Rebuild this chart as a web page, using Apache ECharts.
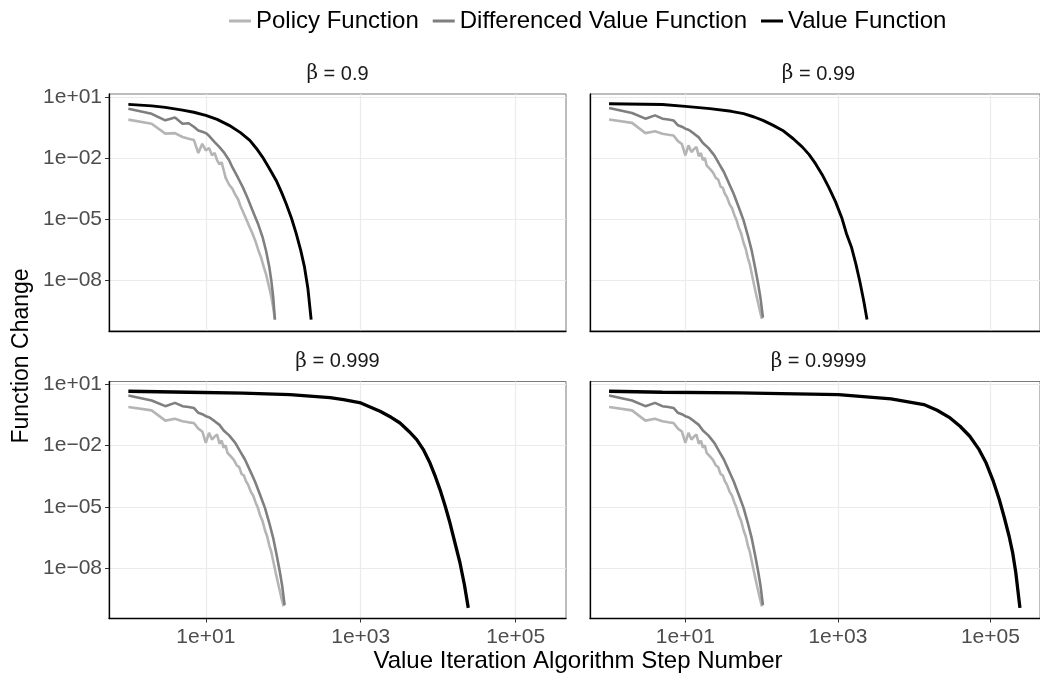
<!DOCTYPE html>
<html>
<head>
<meta charset="utf-8">
<script src="https://cdn.jsdelivr.net/npm/echarts@6/dist/echarts.min.js"></script>
<style>
  html, body { margin: 0; padding: 0; background: #fff; }
  #chart { width: 1040px; height: 677px; }
</style>
</head>
<body>
<div id="chart"></div>
<script>
// ── data: [step, change] ──────────────────────────────────
const betaLabels = ['0.9', '0.99', '0.999', '0.9999'];
const seriesNames = ['Policy Function', 'Differenced Value Function', 'Value Function'];
const xTicks = [10, 1000, 100000];
const yTicks = [1e-8, 1e-5, 1e-2, 10];

// β = 0.9
const policyA = [[1,0.78],[2,0.49],[3,0.16],[4,0.17],[5,0.11],[6,0.089],[7,0.079],[8,0.018],[9,0.051],[10,0.024],
  [11,0.032],[12,0.0138],[13,0.018],[14,0.0079],[15,0.005],[16,0.0063],[18,0.00112],[20,5e-4],[22,3.2e-4],[24,1.6e-4],
  [26,1e-4],[28,4.5e-5],[30,2.5e-5],[33,1.1e-5],[36,5e-6],[40,2e-6],[44,7.9e-7],[48,2.8e-7],[52,1.26e-7],[56,4.5e-8],
  [60,2e-8],[65,5.6e-9],[70,1.6e-9],[74,5e-10],[78,1.2e-10]];
const diffA = [[1,2.7],[2,1.5],[3,0.72],[4,0.98],[5,0.49],[6,0.52],[7,0.35],[8,0.23],[9,0.2],[10,0.17],[11,0.126],
  [13,0.062],[15,0.035],[17,0.02],[20,0.0079],[22,0.0036],[26,0.0011],[30,3.8e-4],[35,1e-4],[40,2.8e-5],[47,6.3e-6],
  [54,1.35e-6],[60,2.8e-7],[66,4.6e-8],[70,1e-8],[74,1.6e-9],[78,1.2e-10]];
const value09 = [[1,4.4],[2,3.7],[3,3.1],[5,2.3],[7,1.8],[10,1.26],[14,0.8],[20,0.41],[28,0.18],[37,0.075],[45,0.03],
  [54,0.0114],[65,3.5e-3],[81,8.1e-4],[95,2.1e-4],[109,5.8e-5],[128,1.1e-5],[147,2e-6],[168,3e-7],[188,4.5e-8],
  [208,4e-9],[229,1.2e-10]];

// β = 0.99, 0.999, 0.9999 share the policy / differenced curves
const policyB = [[1,0.79],[2,0.54],[3,0.17],[4,0.21],[5,0.16],[6,0.14],[7,0.13],[8,0.069],[9,0.05],[10,0.0138],
  [11,0.043],[12,0.02],[13,0.028],[14,0.035],[15,0.0126],[16,0.018],[17,0.0079],[18,0.0105],[19,0.0045],[20,0.0056],
  [21,0.003],[23,0.002],[25,0.0011],[27,8.9e-4],[29,4e-4],[31,3.5e-4],[33,1.8e-4],[35,1.26e-4],[38,5.6e-5],[41,3.5e-5],
  [44,1.6e-5],[47,8.9e-6],[50,4e-6],[54,2e-6],[58,7.1e-7],[62,3.5e-7],[66,1.26e-7],[70,6.3e-8],[75,1.8e-8],[80,5.6e-9],
  [85,2e-9],[90,7.9e-10],[95,3.2e-10],[101,1.3e-10]];
const diffB = [[1,2.9],[2,1.66],[3,0.87],[4,1.26],[5,0.87],[6,0.79],[7,0.71],[8,0.41],[9,0.35],[10,0.28],[11,0.25],
  [12,0.2],[13,0.16],[15,0.105],[17,0.056],[20,0.032],[24,0.0138],[28,0.005],[32,0.0021],[37,6.3e-4],[43,1.8e-4],
  [50,4e-5],[58,8.9e-6],[66,1.6e-6],[74,3e-7],[82,4.5e-8],[90,6.9e-9],[97,1.26e-9],[104,1.5e-10]];
const value099 = [[1,4.7],[5,4.3],[10,3.5],[21,2.7],[40,2.0],[58,1.53],[80,1.05],[104,0.72],[140,0.42],[189,0.23],
  [260,0.09],[343,0.035],[420,0.015],[509,0.0054],[620,1.6e-3],[757,3.8e-4],[930,7.4e-5],[1124,1.2e-5],[1300,1.9e-6],
  [1513,4.1e-7],[1720,6.5e-8],[1940,8.9e-9],[2180,1e-9],[2410,1.2e-10]];
const value0999 = [[1,4.7],[6,4.2],[30,3.8],[122,3.2],[400,2.3],[600,1.8],[1000,1.26],[1774,0.49],[2500,0.24],[3214,0.13],
  [4200,0.05],[5280,0.02],[6500,6e-3],[7840,1.4e-3],[9200,3e-4],[10550,7e-5],[12300,1.1e-5],[14200,1.6e-6],
  [16600,1.5e-7],[19100,1.8e-8],[21800,1.5e-9],[24450,1.1e-10]];
const value09999 = [[1,4.7],[5,4.2],[50,3.9],[1019,3.2],[4977,1.98],[13400,1.04],[20000,0.55],[29600,0.23],
  [40000,0.09],[53600,0.029],[70000,7e-3],[87900,1.4e-3],[108000,2e-4],[130700,2.3e-5],[152000,3e-6],
  [175800,3.6e-7],[195000,6e-8],[215000,6e-9],[243800,1.1e-10]];

const panelData = [
  [policyA, diffA, value09],
  [policyB, diffB, value099],
  [policyB, diffB, value0999],
  [policyB, diffB, value09999],
];

// ── layout / style ─────────────────────────────────────────
const FONT = '"Liberation Sans", Arial, Helvetica, sans-serif';
const lineColors = ['#b5b5b5', '#7f7f7f', '#000000'];
const lineWidths = [2.6, 2.6, 2.9];
const gridPos = [
  { left: 109, top: 94 },  { left: 590, top: 94 },
  { left: 109, top: 381.5 }, { left: 590, top: 381.5 },
];
const PW = 457, PH = 237;
const X_MIN = Math.pow(10, -0.25), X_MAX = Math.pow(10, 5.65);
const Y_MIN = Math.pow(10, -10.48), Y_MAX = Math.pow(10, 1.15);

function sci(v) {
  const e = Math.round(Math.log10(v));
  const a = Math.abs(e);
  return '1e' + (e < 0 ? '\u2212' : '+') + (a < 10 ? '0' : '') + a;
}

const chart = echarts.init(document.getElementById('chart'), null, { renderer: 'canvas' });

const grids = gridPos.map(p => ({
  left: p.left, top: p.top, width: PW, height: PH,
  show: true, backgroundColor: '#fff', borderColor: '#7a7a7a', borderWidth: 1,
}));

const xAxes = gridPos.map((p, i) => {
  const bottomRow = i >= 2;
  return {
    type: 'log', logBase: 10, gridIndex: i, min: X_MIN, max: X_MAX,
    axisLine: { show: true, lineStyle: { color: '#000', width: 1.3 } },
    axisTick: { show: bottomRow, customValues: xTicks, length: 4, lineStyle: { color: '#333' } },
    axisLabel: { show: bottomRow, customValues: xTicks, formatter: sci, margin: 8,
                 fontFamily: FONT, fontSize: 21, color: '#4d4d4d' },
    splitLine: { show: true, lineStyle: { color: '#ebebeb', width: 1.2 } },
  };
});

const yAxes = gridPos.map((p, i) => {
  const leftCol = i % 2 === 0;
  return {
    type: 'log', logBase: 10, gridIndex: i, min: Y_MIN, max: Y_MAX,
    axisLine: { show: true, lineStyle: { color: '#000', width: 1.3 } },
    axisTick: { show: leftCol, customValues: yTicks, length: 4, lineStyle: { color: '#333' } },
    axisLabel: { show: leftCol, customValues: yTicks, formatter: sci, margin: 7,
                 fontFamily: FONT, fontSize: 21, color: '#4d4d4d' },
    splitLine: { show: true, lineStyle: { color: '#ebebeb', width: 1.2 } },
  };
});

const series = [];
panelData.forEach((curves, i) => {
  curves.forEach((data, k) => {
    series.push({
      name: seriesNames[k], type: 'line', xAxisIndex: i, yAxisIndex: i,
      data: data, showSymbol: false, symbol: 'none', smooth: false,
      itemStyle: { color: lineColors[k] },
      lineStyle: { color: lineColors[k], width: lineWidths[k] + (k === 2 && i >= 2 ? 0.4 : 0) },
      z: 2 + k, animation: false,
    });
  });
});

// strip titles and axis titles
const graphics = gridPos.map((p, i) => ({
  type: 'text',
  x: p.left + PW / 2, y: p.top - 20,
  style: {
    text: '{b|β} = ' + betaLabels[i],
    rich: { b: { fontFamily: '"DejaVu Serif", serif', fontSize: 20, fill: '#1a1a1a' } },
    fontFamily: FONT, fontSize: 20, fill: '#1a1a1a',
    align: 'center', verticalAlign: 'middle',
  },
}));
graphics.push({
  type: 'text', x: 22, y: 356, rotation: Math.PI / 2,
  style: { text: 'Function Change', fontFamily: FONT, fontSize: 23, fill: '#000',
           align: 'center', verticalAlign: 'middle' },
});
graphics.push({
  type: 'text', x: 578, y: 661,
  style: { text: 'Value Iteration Algorithm Step Number', fontFamily: FONT, fontSize: 24, fill: '#000',
           align: 'center', verticalAlign: 'middle' },
});

chart.setOption({
  animation: false,
  backgroundColor: '#fff',
  legend: {
    data: seriesNames, top: 4, left: 224,
    icon: 'rect', itemWidth: 22, itemHeight: 3, itemGap: 14,
    textStyle: { fontFamily: FONT, fontSize: 24, color: '#000' },
    selectedMode: false,
  },
  grid: grids,
  xAxis: xAxes,
  yAxis: yAxes,
  series: series,
  graphic: graphics,
});
</script>
</body>
</html>
